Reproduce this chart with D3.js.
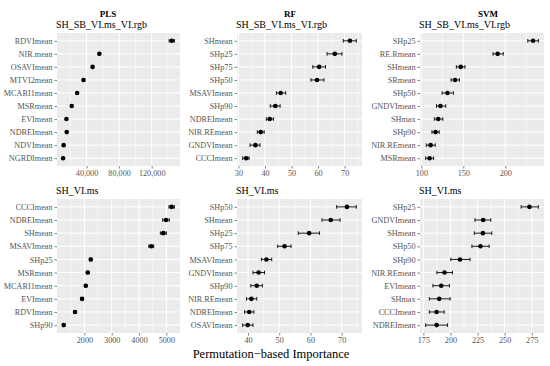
<!DOCTYPE html>
<html>
<head>
<meta charset="utf-8">
<title>Permutation importance</title>
<style>
  body { margin: 0; background: #fff; }
  text { font-family: "Liberation Serif", "DejaVu Serif", serif; }
</style>
</head>
<body>
<script src="https://d3js.org/d3.v7.min.js"></script>
<script>
// ---- data (ordered top to bottom) ----
var models = ["PLS", "RF", "SVM"];
var groups = ["SH_SB_VI.ms_VI.rgb", "SH_VI.ms"];

var plsTopVars = ["RDVImean", "NIR.mean", "OSAVImean", "MTVI2mean", "MCARI1mean", "MSRmean", "EVImean", "NDREImean", "NDVImean", "NGRDImean"];
var plsTopMean = [144700, 55700, 47400, 36300, 28500, 21800, 15300, 15700, 11900, 11200];
var plsTopLo   = [141400, 55100, 46800, 35700, 27900, 21200, 14700, 15100, 11300, 10600];
var plsTopHi   = [147900, 56300, 48000, 36900, 29100, 22400, 15900, 16300, 12500, 11800];
var plsTopTicks = [40000, 80000, 120000];

var rfTopVars = ["SHmean", "SHp25", "SHp75", "SHp50", "MSAVImean", "SHp90", "NDREImean", "NIR.REmean", "GNDVImean", "CCCImean"];
var rfTopMean = [72.0, 66.3, 60.4, 59.6, 45.9, 43.9, 41.8, 38.4, 36.4, 32.9];
var rfTopLo   = [69.5, 63.4, 58.0, 57.3, 44.3, 42.0, 40.5, 37.1, 34.4, 31.6];
var rfTopHi   = [74.4, 69.0, 62.8, 62.2, 47.8, 45.7, 43.2, 39.7, 38.1, 34.0];
var rfTopTicks = [30, 40, 50, 60, 70];

var svmTopVars = ["SHp25", "RE.Rmean", "SHmean", "SRmean", "SHp50", "GNDVImean", "SHmax", "SHp90", "NIR.REmean", "MSRmean"];
var svmTopMean = [233.1, 190.9, 146.9, 140.2, 131.1, 122.8, 120.1, 116.9, 111.0, 109.8];
var svmTopLo   = [226.8, 185.4, 141.7, 135.4, 124.8, 118.1, 115.4, 112.6, 105.9, 105.1];
var svmTopHi   = [239.4, 197.6, 152.0, 145.3, 138.2, 129.1, 125.6, 121.3, 116.5, 114.6];
var svmTopTicks = [100, 150, 200];

var plsBotVars = ["CCCImean", "NDREImean", "SHmean", "MSAVImean", "SHp25", "MSRmean", "MCARI1mean", "EVImean", "RDVImean", "SHp90"];
var plsBotMean = [5195, 4987, 4890, 4448, 2232, 2122, 2049, 1914, 1657, 1241];
var plsBotLo   = [5095, 4867, 4780, 4358, 2192, 2082, 2009, 1874, 1617, 1201];
var plsBotHi   = [5295, 5107, 5000, 4538, 2272, 2162, 2089, 1954, 1697, 1281];
var plsBotTicks = [2000, 3000, 4000, 5000];

var rfBotVars = ["SHp50", "SHmean", "SHp25", "SHp75", "MSAVImean", "GNDVImean", "SHp90", "NIR.REmean", "NDREImean", "OSAVImean"];
var rfBotMean = [71.7, 66.5, 59.6, 51.7, 45.9, 43.4, 42.8, 41.1, 40.4, 39.9];
var rfBotLo   = [68.4, 63.7, 56.1, 49.5, 44.3, 41.6, 40.9, 39.5, 38.9, 38.3];
var rfBotHi   = [74.7, 69.5, 62.9, 53.8, 47.6, 45.3, 44.6, 42.8, 41.9, 41.6];
var rfBotTicks = [40, 50, 60, 70];

var svmBotVars = ["SHp25", "GNDVImean", "SHmean", "SHp50", "SHp90", "NIR.REmean", "EVImean", "SHmax", "CCCImean", "NDREImean"];
var svmBotMean = [272.9, 230.2, 229.9, 227.7, 208.8, 194.5, 191.5, 189.6, 187.2, 187.2];
var svmBotLo   = [265.2, 222.6, 222.0, 219.8, 200.3, 187.5, 183.8, 180.5, 180.5, 177.1];
var svmBotHi   = [281.1, 237.2, 238.1, 235.7, 218.0, 201.8, 199.1, 199.7, 194.2, 197.3];
var svmBotTicks = [175, 200, 225, 250, 275];

// ---- layout ----
var width = 550, height = 366;
var colX = [[57, 180], [237, 362], [420, 544]];
var rowY = [[33, 166], [199, 333]];
var titleX = [108, 290, 488];

var panels = [
  { col: 0, row: 0, vars: plsTopVars, mean: plsTopMean, lo: plsTopLo, hi: plsTopHi, ticks: plsTopTicks, fmt: d3.format(",") },
  { col: 1, row: 0, vars: rfTopVars, mean: rfTopMean, lo: rfTopLo, hi: rfTopHi, ticks: rfTopTicks, fmt: d3.format("d") },
  { col: 2, row: 0, vars: svmTopVars, mean: svmTopMean, lo: svmTopLo, hi: svmTopHi, ticks: svmTopTicks, fmt: d3.format("d") },
  { col: 0, row: 1, vars: plsBotVars, mean: plsBotMean, lo: plsBotLo, hi: plsBotHi, ticks: plsBotTicks, fmt: d3.format("d") },
  { col: 1, row: 1, vars: rfBotVars, mean: rfBotMean, lo: rfBotLo, hi: rfBotHi, ticks: rfBotTicks, fmt: d3.format("d") },
  { col: 2, row: 1, vars: svmBotVars, mean: svmBotMean, lo: svmBotLo, hi: svmBotHi, ticks: svmBotTicks, fmt: d3.format("d") }
];

var svg = d3.select("body").append("svg")
  .attr("width", width).attr("height", height);

// model titles
models.forEach(function(m, i) {
  svg.append("text")
    .attr("x", titleX[i]).attr("y", 17)
    .attr("text-anchor", "middle")
    .attr("font-size", 9).attr("font-weight", "bold")
    .text(m);
});

panels.forEach(function(p) {
  var x0 = colX[p.col][0], x1 = colX[p.col][1];
  var y0 = rowY[p.row][0], y1 = rowY[p.row][1];

  var lo = d3.min(p.lo), hi = d3.max(p.hi);
  var pad = (hi - lo) * 0.05;
  var x = d3.scaleLinear().domain([lo - pad, hi + pad]).range([x0, x1]);
  var y = d3.scalePoint().domain(p.vars).range([y0, y1]).padding(0.6);

  var g = svg.append("g");

  // subtitle
  g.append("text")
    .attr("x", x0 - 1).attr("y", y0 - 5.5)
    .attr("font-size", 10)
    .text(groups[p.row]);

  // panel background
  g.append("rect")
    .attr("x", x0).attr("y", y0)
    .attr("width", x1 - x0).attr("height", y1 - y0)
    .attr("fill", "#EBEBEB");

  // minor gridlines
  var step = p.ticks[1] - p.ticks[0];
  var minors = [];
  for (var v = p.ticks[0] - step / 2; v <= x.domain()[1]; v += step) {
    if (v >= x.domain()[0]) minors.push(v);
  }
  g.selectAll(".minor").data(minors).enter().append("line")
    .attr("x1", function(d) { return x(d); }).attr("x2", function(d) { return x(d); })
    .attr("y1", y0).attr("y2", y1)
    .attr("stroke", "#fff").attr("stroke-width", 0.5);

  // major gridlines
  g.selectAll(".vmaj").data(p.ticks).enter().append("line")
    .attr("x1", function(d) { return x(d); }).attr("x2", function(d) { return x(d); })
    .attr("y1", y0).attr("y2", y1)
    .attr("stroke", "#fff").attr("stroke-width", 1);
  g.selectAll(".hmaj").data(p.vars).enter().append("line")
    .attr("x1", x0).attr("x2", x1)
    .attr("y1", function(d) { return y(d); }).attr("y2", function(d) { return y(d); })
    .attr("stroke", "#fff").attr("stroke-width", 1);

  // axes
  var xAxis = d3.axisBottom(x).tickValues(p.ticks).tickFormat(p.fmt).tickSize(2.5).tickPadding(2);
  var gx = g.append("g").attr("transform", "translate(0," + y1 + ")").call(xAxis);
  var yAxis = d3.axisLeft(y).tickSize(2.5).tickPadding(2);
  var gy = g.append("g").attr("transform", "translate(" + x0 + ",0)").call(yAxis);
  [gx, gy].forEach(function(a) {
    a.select(".domain").remove();
    a.selectAll(".tick line").attr("stroke", "#333").attr("stroke-width", 0.6);
    a.selectAll(".tick text").attr("fill", "#555").attr("font-size", 8.2)
      .attr("font-family", "Liberation Serif, DejaVu Serif, serif");
  });

  // error bars
  var cap = 1.8;
  var idx = d3.range(p.vars.length);
  g.selectAll(".eb").data(idx).enter().append("path")
    .attr("d", function(i) {
      var yy = y(p.vars[i]), a = x(p.lo[i]), b = x(p.hi[i]);
      return "M" + a + "," + (yy - cap) + "V" + (yy + cap) +
             "M" + a + "," + yy + "H" + b +
             "M" + b + "," + (yy - cap) + "V" + (yy + cap);
    })
    .attr("fill", "none").attr("stroke", "#000").attr("stroke-width", 0.9);

  // points
  g.selectAll(".pt").data(idx).enter().append("circle")
    .attr("cx", function(i) { return x(p.mean[i]); })
    .attr("cy", function(i) { return y(p.vars[i]); })
    .attr("r", 2.3)
    .attr("fill", "#000");
});

// shared x label
svg.append("text")
  .attr("x", 271).attr("y", 358)
  .attr("text-anchor", "middle")
  .attr("font-size", 12.5)
  .text("Permutation\u2212based Importance");
</script>
</body>
</html>
